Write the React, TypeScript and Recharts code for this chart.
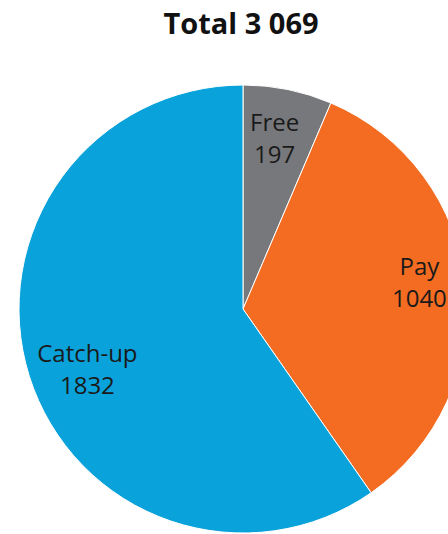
import { PieChart, Pie, Cell } from "recharts";

const categories = ["Free", "Pay", "Catch-up"];
const values = [197, 1040, 1832];
const colors = ["#77787b", "#f36c21", "#0aa2da"];

const RADIAN = Math.PI / 180;
const total = values.reduce((a, b) => a + b, 0);
const fmt = (n: number) => String(n).replace(/\B(?=(\d{3})+(?!\d))/g, " ");

const data = categories.map((name, i) => ({ name, value: values[i] }));

// labels sit a bit right of the slice midpoints, like the Excel original
function SliceLabel(props: any) {
  const { cx, cy, midAngle, outerRadius, name, value } = props;
  const r = outerRadius * 0.77;
  const a = (midAngle + 3) * RADIAN;
  const x = cx + r * Math.cos(-a) + 6;
  const y = cy + r * Math.sin(-a);
  return (
    <text x={x} y={y} textAnchor="middle" fill="#1a1a1a" fontSize={24} fontFamily="'Open Sans', sans-serif">
      <tspan x={x} dy={-7}>{name}</tspan>
      <tspan x={x} dy={32}>{value}</tspan>
    </text>
  );
}

export default function App() {
  return (
    <div style={{ position: "absolute", left: 0, top: 0, width: 448, height: 534, background: "#fff" }}>
      <div
        style={{
          position: "absolute",
          left: 0,
          top: 3,
          width: 482,
          textAlign: "center",
          fontFamily: "'Open Sans', sans-serif",
          fontWeight: 700,
          fontSize: 29,
          color: "#111",
        }}
      >
        Total {fmt(total)}
      </div>
      <PieChart width={448} height={534} margin={{ top: 0, right: 0, bottom: 0, left: 0 }}>
        <Pie
          data={data}
          dataKey="value"
          nameKey="name"
          cx={243}
          cy={309}
          outerRadius={224}
          startAngle={90}
          endAngle={-270}
          stroke="#fff"
          strokeWidth={1}
          label={SliceLabel}
          labelLine={false}
          isAnimationActive={false}
        >
          {data.map((d, i) => (
            <Cell key={d.name} fill={colors[i]} />
          ))}
        </Pie>
      </PieChart>
    </div>
  );
}
